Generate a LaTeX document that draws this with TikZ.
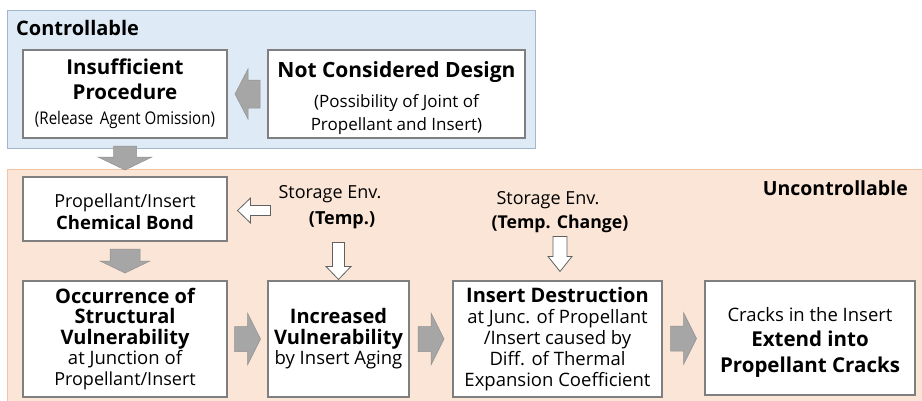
\documentclass[tikz,border=0pt]{standalone}
\usepackage{fontspec}
\usepackage{graphicx}
\setmainfont{Open Sans}
\usetikzlibrary{calc}

\definecolor{bluefill}{HTML}{DEEBF7}
\definecolor{blueline}{HTML}{A3B6CA}
\definecolor{peachfill}{HTML}{FBE5D6}
\definecolor{peachline}{HTML}{F2C4A6}
\definecolor{boxgray}{HTML}{7F7F7F}
\definecolor{arrgray}{HTML}{A6A6A6}

% block arrow: #1 style, #2 centre, #3 angle, #4 length, #5 head length,
% #6 half shaft width, #7 half head width
\newcommand{\blockarrow}[7]{%
  \path[#1, shift={#2}, rotate=#3]
    (-#4/2,-#6) -- (#4/2-#5,-#6) -- (#4/2-#5,-#7) -- (#4/2,0)
    -- (#4/2-#5,#7) -- (#4/2-#5,#6) -- (-#4/2,#6) -- cycle;}

\newcommand{\hd}{\bfseries\fontsize{20}{21}\selectfont}
\newcommand{\bd}{\mdseries\fontsize{18.5}{21}\selectfont}

\begin{document}
\begin{tikzpicture}[x=1pt,y=-1pt,
  box/.style={draw=boxgray, line width=1.1pt, fill=white, inner sep=0pt, align=center},
  txt/.style={inner sep=0pt, align=center},
  garrow/.style={fill=arrgray, draw=arrgray!88!black, line width=0.5pt},
  warrow/.style={fill=white, draw=black!62, line width=0.8pt}]
\useasboundingbox (0,0) rectangle (922,400);

% the two zones
\fill[peachfill] (7,169.5) rectangle (930,410);
\draw[peachline, line width=1pt] (7,410) -- (7,169.5) -- (930,169.5);
\filldraw[fill=bluefill, draw=blueline, line width=1pt] (7,10) rectangle (535,148);

\node[txt, anchor=west, font=\bfseries\fontsize{20}{21}\selectfont] (ctl) at (16,28) {Controllable};
\node[txt, anchor=east, font=\bfseries\fontsize{19.5}{21}\selectfont] (unctl) at (908,188) {Uncontrollable};

% controllable causes
\node[box, minimum width=204pt, minimum height=88pt, font=\fontsize{17}{25}\selectfont] (proc) at (125,94)
  {{\bfseries\fontsize{20.5}{25}\selectfont Insufficient}\\{\bfseries\fontsize{20.5}{25}\selectfont Procedure}\\{\fontsize{17.5}{25}\selectfont\scalebox{0.86}[1]{(Release\ \,Agent Omission)}}};
\node[box, minimum width=257pt, minimum height=88pt] (design) at (396.5,94) {};
\node[txt, font=\fontsize{17}{23}\selectfont] (designtext) at ($(design.center)+(0,4)$)
  {{\bfseries\fontsize{21}{23}\selectfont Not Considered Design}\\[7pt](Possibility of Joint of\\Propellant and Insert)};

% uncontrollable chain
\node[box, minimum width=204pt, minimum height=64pt] (chem) at (125,209) {};
\node[txt, font=\fontsize{18}{22}\selectfont] (chemtext) at ($(chem.center)+(0,3)$)
  {Propellant/Insert\\{\bfseries\fontsize{18.5}{22}\selectfont Chemical Bond}};
\node[box, minimum width=204pt, minimum height=116pt, font=\fontsize{18}{20.5}\selectfont] (occ) at (125,339)
  {{\hd Occurrence of}\\{\hd Structural}\\{\hd Vulnerability}\\{\bd at Junction of}\\{\mdseries\fontsize{18}{21}\selectfont Propellant/Insert}};
\node[box, minimum width=141pt, minimum height=116pt, font=\fontsize{18}{20.5}\selectfont] (inc) at (338.5,339)
  {{\hd Increased}\\{\hd Vulnerability}\\{\bd by Insert Aging}};
\node[box, minimum width=209pt, minimum height=116pt, font=\fontsize{18}{21}\selectfont] (ins) at (557.5,339)
  {{\hd Insert Destruction}\\{\bd at Junc. of Propellant}\\{\bd /Insert caused by}\\{\bd Diff. of Thermal}\\{\bd Expansion Coefficient}};
\node[box, minimum width=210pt, minimum height=114pt] (cr) at (810,338) {};
\node[txt, font=\fontsize{18.5}{25.5}\selectfont] (crtext) at ($(cr.center)+(0,4)$)
  {Cracks in the Insert\\{\bfseries\fontsize{20.5}{25.5}\selectfont Extend into}\\{\bfseries\fontsize{20.5}{25.5}\selectfont Propellant Cracks}};

% storage environment labels
\node[txt, font=\fontsize{18}{21}\selectfont] (env1) at (330,194) {Storage Env.};
\node[txt, font=\bfseries\fontsize{18}{21}\selectfont] (tmp1) at (342,220) {(Temp.)};
\node[txt, font=\fontsize{18}{21}\selectfont] (env2) at (548,200) {Storage Env.};
\node[txt, font=\bfseries\fontsize{17.7}{21}\selectfont] (tmp2) at (560,224) {(Temp. Change)};

% grey block arrows
\blockarrow{garrow}{($(proc.east)!0.5!(design.west)$)}{180}{25}{13}{14}{25}
\blockarrow{garrow}{(125,158)}{-90}{24}{13}{11.5}{27}
\blockarrow{garrow}{($(chem.south)!0.5!(occ.north)$)}{-90}{24}{12}{15}{25}
\blockarrow{garrow}{($(occ.east)!0.5!(inc.west)$)}{0}{26}{13}{12.5}{26}
\blockarrow{garrow}{($(inc.east)!0.5!(ins.west)$)}{0}{26}{13}{12.5}{26}
\blockarrow{garrow}{($(ins.east)!0.5!(cr.west)$)}{0}{26}{13}{12.5}{26}

% white block arrows from the storage environment
\blockarrow{warrow}{($(chem.east)+(26.5,1.5)$)}{180}{33}{13}{5}{12.5}
\blockarrow{warrow}{($(inc.north)+(0,-19.5)$)}{-90}{37}{13}{6}{12.5}
\blockarrow{warrow}{($(ins.north)+(2.5,-26.5)$)}{-90}{35}{15}{7}{12}
\end{tikzpicture}
\end{document}
